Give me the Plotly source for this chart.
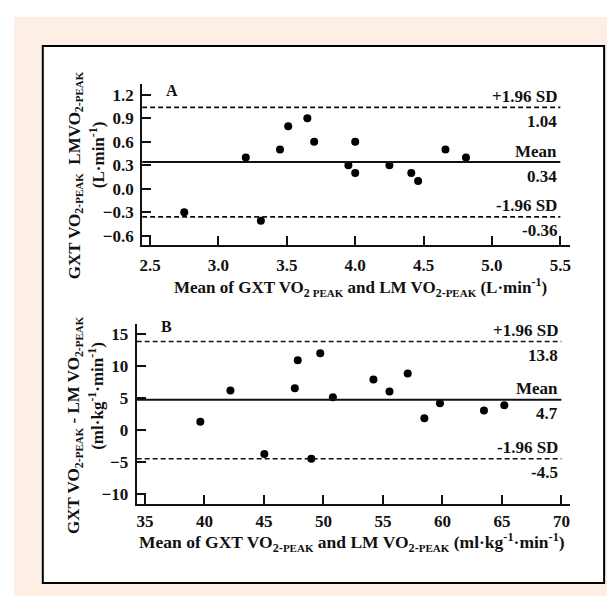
import plotly.graph_objects as go

# ---------------- data ----------------
a_mean_x = [2.75, 3.20, 3.31, 3.45, 3.51, 3.65, 3.70, 3.95, 4.00, 4.00, 4.25, 4.41, 4.46, 4.66, 4.81]
a_diff_y = [-0.30, 0.40, -0.41, 0.50, 0.80, 0.90, 0.60, 0.30, 0.60, 0.20, 0.30, 0.20, 0.10, 0.50, 0.40]
a_limits = {"upper": 1.04, "mean": 0.34, "lower": -0.36}
a_limit_labels = ["1.04", "0.34", "-0.36"]
a_xticks = [2.5, 3.0, 3.5, 4.0, 4.5, 5.0, 5.5]
a_yticks = [-0.6, -0.3, 0.0, 0.3, 0.6, 0.9, 1.2]

b_mean_x = [39.65, 42.18, 45.03, 47.59, 47.84, 48.98, 49.73, 50.79, 54.2, 55.55, 57.08, 58.48, 59.79, 63.49, 65.2]
b_diff_y = [1.27, 6.14, -3.77, 6.5, 10.85, -4.5, 11.94, 5.1, 7.85, 5.98, 8.78, 1.8, 4.17, 3.02, 3.85]
b_limits = {"upper": 13.8, "mean": 4.7, "lower": -4.5}
b_limit_labels = ["13.8", "4.7", "-4.5"]
b_xticks = [35, 40, 45, 50, 55, 60, 65, 70]
b_yticks = [-10, -5, 0, 5, 10, 15]

W, H = 615, 596
FONT = "Liberation Serif"
INK = "#111111"
FS = 17

def px(x):
    return x / W

def py(y):
    return 1 - y / H

fig = go.Figure()

fig.add_trace(go.Scatter(x=a_mean_x, y=a_diff_y, mode="markers",
                         marker=dict(color="black", size=8), xaxis="x", yaxis="y",
                         showlegend=False, hoverinfo="x+y"))
fig.add_trace(go.Scatter(x=b_mean_x, y=b_diff_y, mode="markers",
                         marker=dict(color="black", size=8), xaxis="x2", yaxis="y2",
                         showlegend=False, hoverinfo="x+y"))

a_xrange = [2.442, 5.573]
a_yrange = [-0.714, 1.34]
b_xrange = [34.3, 70.75]
b_yrange = [-11.6, 16.45]

axis_common = dict(showgrid=False, zeroline=False, showline=True, linecolor=INK,
                   linewidth=2, ticks="inside", ticklen=9, tickwidth=1.5, tickcolor=INK,
                   tickfont=dict(family=FONT, size=FS, color=INK, weight="bold"),
                   fixedrange=True)

fig.update_layout(
    width=W, height=H,
    margin=dict(l=0, r=0, t=0, b=0),
    paper_bgcolor="white",
    plot_bgcolor="rgba(0,0,0,0)",
    showlegend=False,
    xaxis=dict(domain=[px(132), px(563)], range=a_xrange, anchor="y",
               tickvals=a_xticks, tickformat=".1f", ticklabelstandoff=4, **axis_common),
    yaxis=dict(domain=[py(237), py(76)], range=a_yrange, anchor="x",
               tickvals=a_yticks, tickformat=".1f", ticklabelstandoff=3, **axis_common),
    xaxis2=dict(domain=[px(126.5), px(563)], range=b_xrange, anchor="y2",
                tickvals=b_xticks, ticklabelstandoff=0, **axis_common),
    yaxis2=dict(domain=[py(497), py(317)], range=b_yrange, anchor="x2",
                tickvals=b_yticks, ticklabelstandoff=3, **axis_common),
)

shapes = [
    # peach page background
    dict(type="rect", xref="paper", yref="paper", x0=px(3), x1=px(613), y0=py(596), y1=py(9),
         fillcolor="#fdeee6", line=dict(width=0), layer="below"),
    # white framed box
    dict(type="rect", xref="paper", yref="paper", x0=px(32), x1=px(597), y0=py(576), y1=py(38),
         fillcolor="white", line=dict(color="black", width=2), layer="below"),
]

annotations = []

def add_limits(xref, yref, xr, lims, labels, xend):
    for key, lab in zip(["upper", "mean", "lower"], labels):
        val = lims[key]
        dash = "solid" if key == "mean" else "5px,3px"
        width = 2 if key == "mean" else 1.6
        shapes.append(dict(type="line", xref=xref, yref=yref, x0=xr[0], x1=xend, y0=val, y1=val,
                           line=dict(color=INK, width=width, dash=dash)))
        top_text = {"upper": "+1.96 SD", "mean": "Mean", "lower": "-1.96 SD"}[key]
        annotations.append(dict(xref=xref, yref=yref, x=xend, y=val, text=top_text,
                                showarrow=False, xanchor="right", yanchor="middle",
                                xshift=-1, yshift=11,
                                font=dict(family=FONT, size=FS, color=INK, weight="bold")))
        annotations.append(dict(xref=xref, yref=yref, x=xend, y=val, text=lab,
                                showarrow=False, xanchor="right", yanchor="middle",
                                xshift=-1, yshift=-14,
                                font=dict(family=FONT, size=FS, color=INK, weight="bold")))

add_limits("x", "y", a_xrange, a_limits, a_limit_labels, a_xticks[-1])
add_limits("x2", "y2", b_xrange, b_limits, b_limit_labels, b_xticks[-1])

def txt(x, y, text, size=FS, angle=0):
    annotations.append(dict(xref="paper", yref="paper", x=px(x), y=py(y), text=text,
                            showarrow=False, xanchor="center", yanchor="middle",
                            textangle=angle,
                            font=dict(family=FONT, size=size, color=INK, weight="bold")))

PK = '<span style="font-size:11px">PEAK</span>'
txt(162, 83, "A", 16)
txt(157, 319, "B", 16)

txt(352, 280, f"Mean of GXT VO<sub>2 {PK}</sub> and LM VO<sub>2-{PK}</sub> (L·min<sup>-1</sup>)")
txt(343, 535, f"Mean of GXT VO<sub>2-{PK}</sub> and LM VO<sub>2-{PK}</sub> (ml·kg<sup>-1</sup>·min<sup>-1</sup>)", 17.5)

txt(65, 168, f"GXT VO<sub>2-{PK}</sub>  LMVO<sub>2-{PK}</sub>", FS, -90)
txt(86, 147, "(L·min<sup>-1</sup>)", FS, -90)
txt(65, 418, f"GXT VO<sub>2-{PK}</sub> - LM VO<sub>2-{PK}</sub>", FS, -90)
txt(86, 388, "(ml·kg<sup>-1</sup>·min<sup>-1</sup>)", FS, -90)

fig.update_layout(shapes=shapes, annotations=annotations)

fig.write_html("out.html")
